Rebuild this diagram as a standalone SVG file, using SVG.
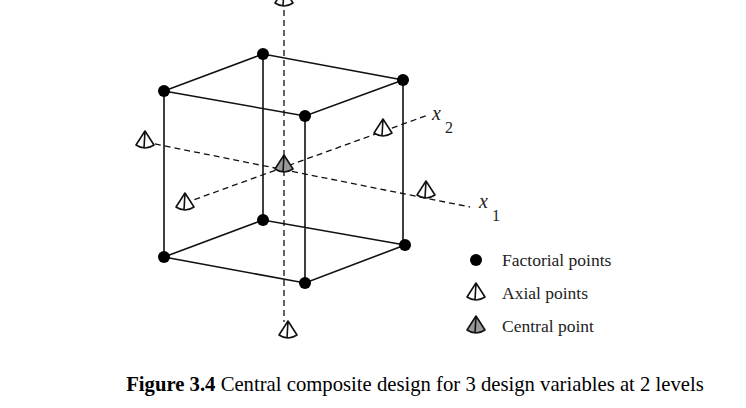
<svg xmlns="http://www.w3.org/2000/svg" width="746" height="408" viewBox="0 0 746 408">
<style>
.e{stroke:#111;stroke-width:1.6;fill:none}
.d{stroke:#111;stroke-width:1.3;fill:none;stroke-dasharray:6,4}
.f{fill:#000}
.t{font-family:"Liberation Serif",serif;fill:#222}
</style>
<defs>
<g id="pyr"><path d="M0,-9 L-9,5 Q0,11 9,5 Z M0,-9 L-1,8" stroke="#111" stroke-width="1.6" fill="#fff" stroke-linejoin="round"/></g>
<g id="pyrc"><path d="M0,-9 L-9,5 Q0,11 9,5 Z M0,-9 L-1,8" stroke="#111" stroke-width="1.6" fill="#999" stroke-linejoin="round"/></g>
</defs>
<rect width="746" height="408" fill="#fff"/>
<g id="connectors">
<line class="d" x1="284" y1="0" x2="284" y2="322"/>
<line class="d" x1="145" y1="142" x2="470" y2="207"/>
<line class="d" x1="185" y1="203" x2="428" y2="115"/>
<path class="e" d="M164,91 L263,54 L403,80 L305,116 Z M164,257 L263,220 L405,245 L305,283 Z M164,91 V257 M263,54 V220 M403,80 V245 M305,116 V283"/>
</g>
<g id="factorial">
<circle class="f" cx="164" cy="91" r="6"/><circle class="f" cx="263" cy="54" r="6"/>
<circle class="f" cx="403" cy="80" r="6"/><circle class="f" cx="305" cy="116" r="6"/>
<circle class="f" cx="164" cy="257" r="6"/><circle class="f" cx="263" cy="220" r="6"/>
<circle class="f" cx="405" cy="245" r="6"/><circle class="f" cx="305" cy="283" r="6"/>
</g>
<g id="axial">
<use href="#pyr" x="145" y="140"/><use href="#pyr" x="426" y="190"/>
<use href="#pyr" x="185" y="202"/><use href="#pyr" x="383" y="128"/>
<use href="#pyr" x="288" y="330"/><use href="#pyr" x="284" y="-2"/>
</g>
<g id="central"><use href="#pyrc" x="284" y="164"/></g>
<g id="labels">
<text class="t" x="432" y="120" font-size="20" font-style="italic">x</text>
<text class="t" x="445" y="133" font-size="16">2</text>
<text class="t" x="479" y="208" font-size="20" font-style="italic">x</text>
<text class="t" x="492" y="221" font-size="16">1</text>
</g>
<g id="legend">
<circle class="f" cx="476" cy="260" r="6"/>
<text class="t" x="502" y="266" font-size="17.5">Factorial points</text>
<use href="#pyr" x="476" y="292"/>
<text class="t" x="502" y="299" font-size="17.5">Axial points</text>
<use href="#pyrc" x="476" y="325"/>
<text class="t" x="502" y="332" font-size="17.5">Central point</text>
</g>
<text x="415" y="391" font-size="20.7" text-anchor="middle" font-family="Liberation Serif,serif" fill="#000"><tspan font-weight="bold">Figure 3.4</tspan> Central composite design for 3 design variables at 2 levels</text>
</svg>
